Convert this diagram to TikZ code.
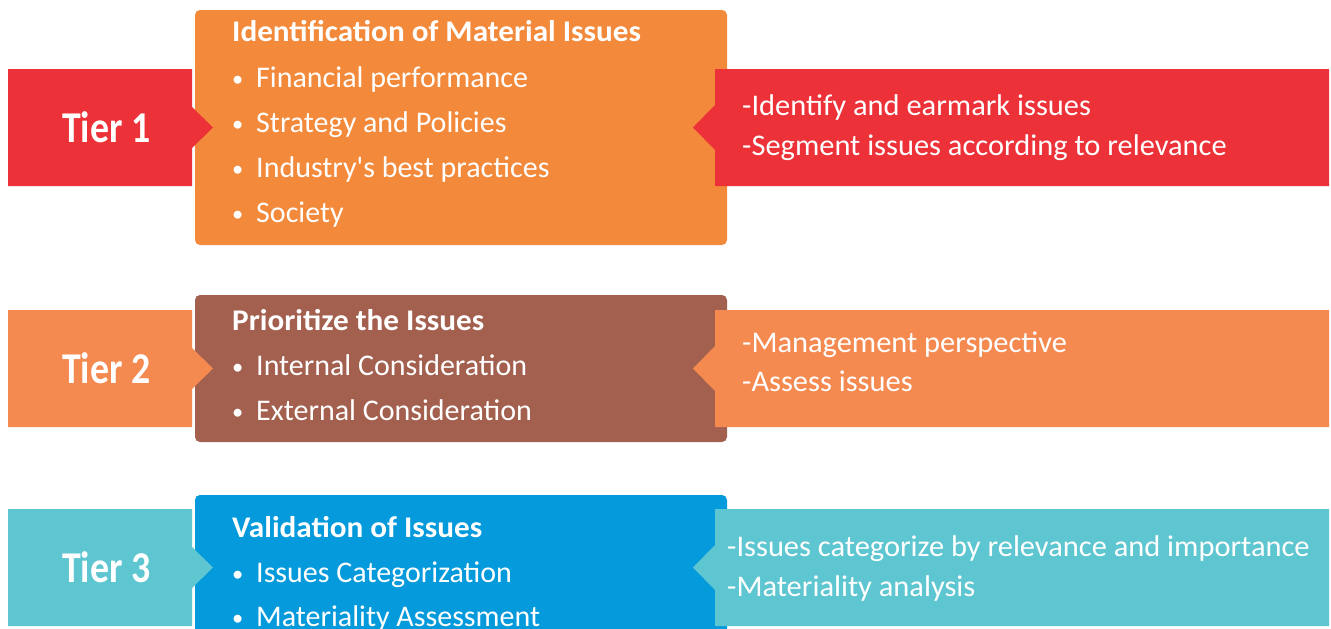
\documentclass[tikz,border=0pt]{standalone}
\usepackage{fontspec}
\setmainfont{Carlito}
\newfontfamily\boldf{Carlito}[FakeStretch=1.04]
\newfontfamily\tierf{Carlito}[FakeStretch=0.86]
\newfontfamily\regf{Carlito}
\newfontfamily\rightf{Carlito}[FakeStretch=1.015]
\begin{document}
\begin{tikzpicture}[x=1pt,y=-1pt,
  txt/.style={anchor=base west,inner sep=0pt,text=white,font=\regf\fontsize{30}{30}\selectfont},
  rtxt/.style={anchor=base west,inner sep=0pt,text=white,font=\rightf\fontsize{30}{30}\selectfont},
  ttl/.style={anchor=base west,inner sep=0pt,text=white,font=\boldf\bfseries\fontsize{30}{30}\selectfont},
  tier/.style={anchor=base west,inner sep=0pt,text=white,font=\tierf\bfseries\fontsize{44}{44}\selectfont},
  mid/.style={rounded corners=5pt},
]
\definecolor{tred}{HTML}{EC3238}
\definecolor{torange}{HTML}{F3893A}
\definecolor{tsalmon}{HTML}{F58A51}
\definecolor{tbrown}{HTML}{A3604F}
\definecolor{tteal}{HTML}{5EC6D0}
\definecolor{tblue}{HTML}{049ADB}
\useasboundingbox (0,0) rectangle (1331,629);
\clip (0,0) rectangle (1331,629);
\fill[white] (0,0) rectangle (1331,629);
% middle boxes
\fill[torange,mid] (195,10) rectangle (727,245);
\fill[tbrown,mid] (195,295) rectangle (727,442);
\fill[tblue,mid] (195,495) rectangle (727,680);
% left bars
\fill[tred] (8,69) -- (192,69) -- (192,107) -- (213,127.5) -- (192,148) -- (192,186) -- (8,186) -- cycle;
\fill[tsalmon] (8,310) -- (192,310) -- (192,348) -- (213,368.5) -- (192,389) -- (192,427) -- (8,427) -- cycle;
\fill[tteal] (8,509) -- (192,509) -- (192,547) -- (213,567.5) -- (192,588) -- (192,626) -- (8,626) -- cycle;
% right bars
\fill[tred] (715,69) -- (1329,69) -- (1329,186) -- (715,186) -- (715,150) -- (693,127.5) -- (715,105) -- cycle;
\fill[tsalmon] (715,310) -- (1329,310) -- (1329,427) -- (715,427) -- (715,391) -- (693,368.5) -- (715,346) -- cycle;
\fill[tteal] (715,509) -- (1329,509) -- (1329,626) -- (715,626) -- (715,590) -- (693,567.5) -- (715,545) -- cycle;
% tier labels
\node[tier] (t1) at (62,142) {Tier 1};
\node[tier] (t2) at (62,383) {Tier 2};
\node[tier] (t3) at (62,582) {Tier 3};
% middle texts
\newcommand{\bul}{\makebox[24pt][l]{\raisebox{1pt}{\scalebox{0.75}{\textbullet}}}}
\node[ttl] (h1) at (232,41) {Identification of Material Issues};
\node[txt] (a1) at (232,87) {\bul Financial performance};
\node[txt] (a2) at (232,132) {\bul Strategy and Policies};
\node[txt] (a3) at (232,177) {\bul Industry\textquotesingle s best practices};
\node[txt] (a4) at (232,222) {\bul Society};
\node[ttl] (h2) at (232,330) {Prioritize the Issues};
\node[txt] (b1) at (232,375) {\bul Internal Consideration};
\node[txt] (b2) at (232,420) {\bul External Consideration};
\node[ttl] (h3) at (232,537) {Validation of Issues};
\node[txt] (c1) at (232,582) {\bul Issues Categorization};
\node[txt] (c2) at (232,626) {\bul Materiality Assessment};
% right texts
\node[rtxt] (r1) at (742,115) {-Identify and earmark issues};
\node[rtxt] (r2) at (742,155) {-Segment issues according to relevance};
\node[rtxt] (s1) at (742,352) {-Management perspective};
\node[rtxt] (s2) at (742,391) {-Assess issues};
\node[rtxt] (u1) at (727,556) {-Issues categorize by relevance and importance};
\node[rtxt] (u2) at (727,596) {-Materiality analysis};
\end{tikzpicture}
\end{document}
